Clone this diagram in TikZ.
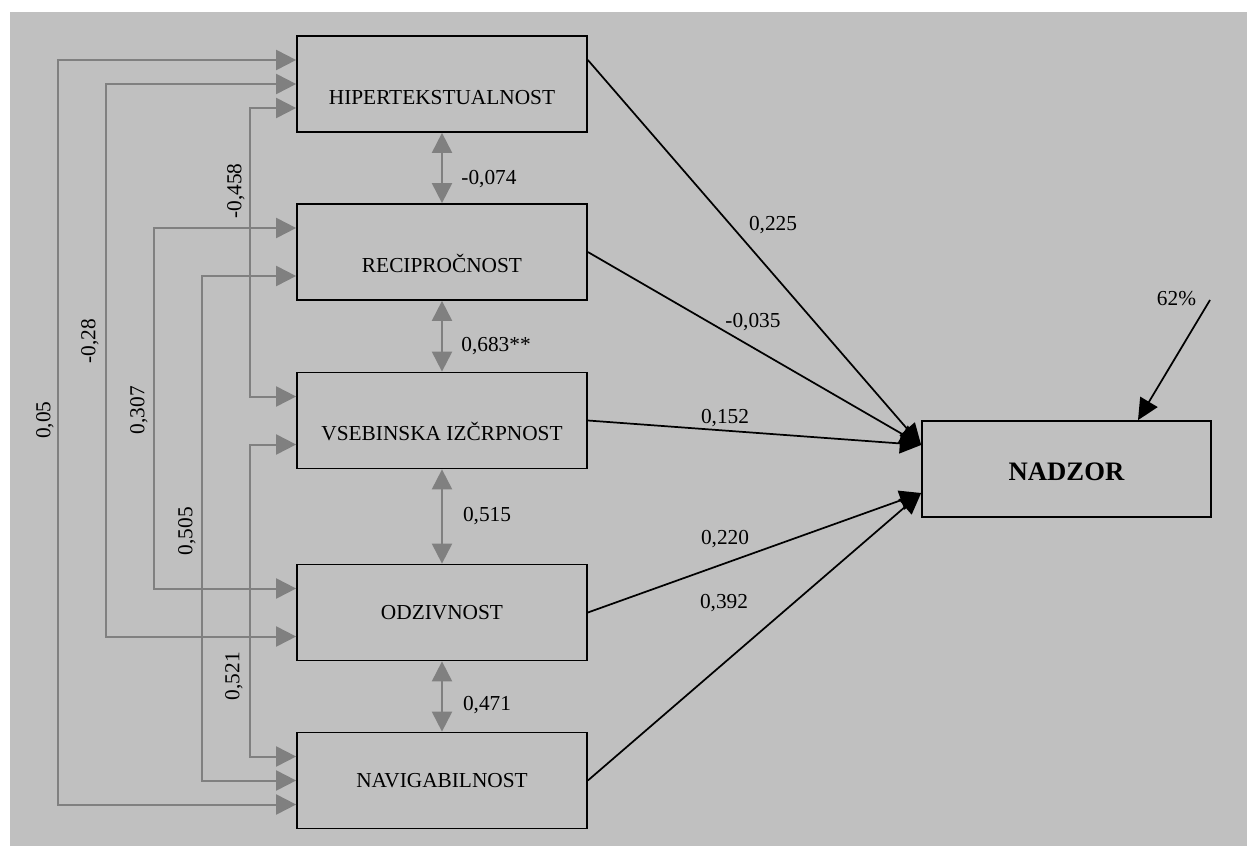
\documentclass[tikz,border=0pt]{standalone}
\usepackage{fontspec}
\setmainfont{Liberation Serif}
\usetikzlibrary{arrows.meta,calc}
\definecolor{panel}{HTML}{C0C0C0}
\definecolor{linkgray}{HTML}{808080}
\begin{document}
\begin{tikzpicture}[x=0.75pt,y=-0.75pt,
  var/.style={draw=black,line width=1.3pt,minimum width=217.5pt,minimum height=72pt,
    inner sep=0pt,font=\fontsize{16}{19}\selectfont,text depth=0pt},
  lowtext/.style={text height=30pt},
  midtext/.style={text height=10.6pt},
  lab/.style={inner sep=0pt,font=\fontsize{16}{19}\selectfont},
  gcon/.style={draw=linkgray,line width=1.5pt,
    {Triangle[length=15pt,width=15pt]}-{Triangle[length=15pt,width=15pt]}},
  bcon/.style={draw=black,line width=1.3pt,-{Triangle[length=16pt,width=15pt]}}
]
\useasboundingbox (0,0) rectangle (1247,846);
\fill[panel] (10,12) rectangle (1247,846);

% predictor boxes
\node[var,lowtext] (hip) at (442,84)    {HIPERTEKSTUALNOST};
\node[var,lowtext] (rec) at (442,252)   {RECIPROČNOST};
\node[var,lowtext] (vse) at (442,420.5) {VSEBINSKA IZČRPNOST};
\node[var,midtext] (odz) at (442,612.5) {ODZIVNOST};
\node[var,midtext] (nav) at (442,780.5) {NAVIGABILNOST};

% outcome box
\node[var,minimum width=216.75pt,font=\fontsize{20}{24}\selectfont\bfseries,
      text height=17.7pt] (nad) at (1066.5,469) {NADZOR};

% vertical lanes of the correlation paths
\coordinate (laneA) at (58,0);
\coordinate (laneB) at (106,0);
\coordinate (laneC) at (154,0);
\coordinate (laneD) at (202,0);
\coordinate (laneE) at (250,0);

% ports on the left sides of the boxes
\coordinate (hipU) at ($(hip.west)+(0,-24)$);
\coordinate (hipM) at (hip.west);
\coordinate (hipL) at ($(hip.west)+(0,24)$);
\coordinate (recU) at ($(rec.west)+(0,-24)$);
\coordinate (recL) at ($(rec.west)+(0,24)$);
\coordinate (vseU) at ($(vse.west)+(0,-24)$);
\coordinate (vseL) at ($(vse.west)+(0,24)$);
\coordinate (odzU) at ($(odz.west)+(0,-24)$);
\coordinate (odzL) at ($(odz.west)+(0,24)$);
\coordinate (navU) at ($(nav.west)+(0,-24)$);
\coordinate (navM) at (nav.west);
\coordinate (navL) at ($(nav.west)+(0,24)$);

% correlations between non-adjacent predictors
\draw[gcon] (hipU) -- (hipU -| laneA) |- (navL);
\draw[gcon] (hipM) -- (hipM -| laneB) |- (odzL);
\draw[gcon] (hipL) -- (hipL -| laneE) |- (vseU);
\draw[gcon] (recU) -- (recU -| laneC) |- (odzU);
\draw[gcon] (recL) -- (recL -| laneD) |- (navM);
\draw[gcon] (vseL) -- (vseL -| laneE) |- (navU);

\node[lab,rotate=90] (cA) at (45,420)  {0,05};
\node[lab,rotate=90] (cB) at (90,341)  {-0,28};
\node[lab,rotate=90] (cC) at (139,410) {0,307};
\node[lab,rotate=90] (cD) at (187,531) {0,505};
\node[lab,rotate=90] (cE) at (236,191) {-0,458};
\node[lab,rotate=90] (cF) at (234,676) {0,521};

% correlations between adjacent predictors
\draw[gcon] (hip.south) -- (rec.north);
\draw[gcon] (rec.south) -- (vse.north);
\draw[gcon] (vse.south) -- (odz.north);
\draw[gcon] (odz.south) -- (nav.north);

\node[lab] (r1) at (489,179) {-0,074};
\node[lab] (r2) at (496,346) {0,683**};
\node[lab] (r3) at (487,516) {0,515};
\node[lab] (r4) at (487,705) {0,471};

% regression paths to the outcome
\coordinate (nadU) at ($(nad.west)+(0,-24)$);
\coordinate (nadL) at ($(nad.west)+(0,24)$);
\draw[bcon] ($(hip.east)+(0,-24)$) -- (nadU);
\draw[bcon] (rec.east) -- (nadU);
\draw[bcon] (vse.east) -- (nadU);
\draw[bcon] (odz.east) -- (nadL);
\draw[bcon] (nav.east) -- (nadL);

\node[lab] (b1) at (773,225) {0,225};
\node[lab] (b2) at (753,322) {-0,035};
\node[lab] (b3) at (725,418) {0,152};
\node[lab] (b4) at (725,539) {0,220};
\node[lab] (b5) at (724,603) {0,392};

% explained variance
\node[lab] (res) at (1176.5,299) {62\%};
\coordinate (ressrc) at (1210,300);
\draw[bcon] (ressrc) -- ($(nad.north)+(71.5,0)$);
\end{tikzpicture}
\end{document}
